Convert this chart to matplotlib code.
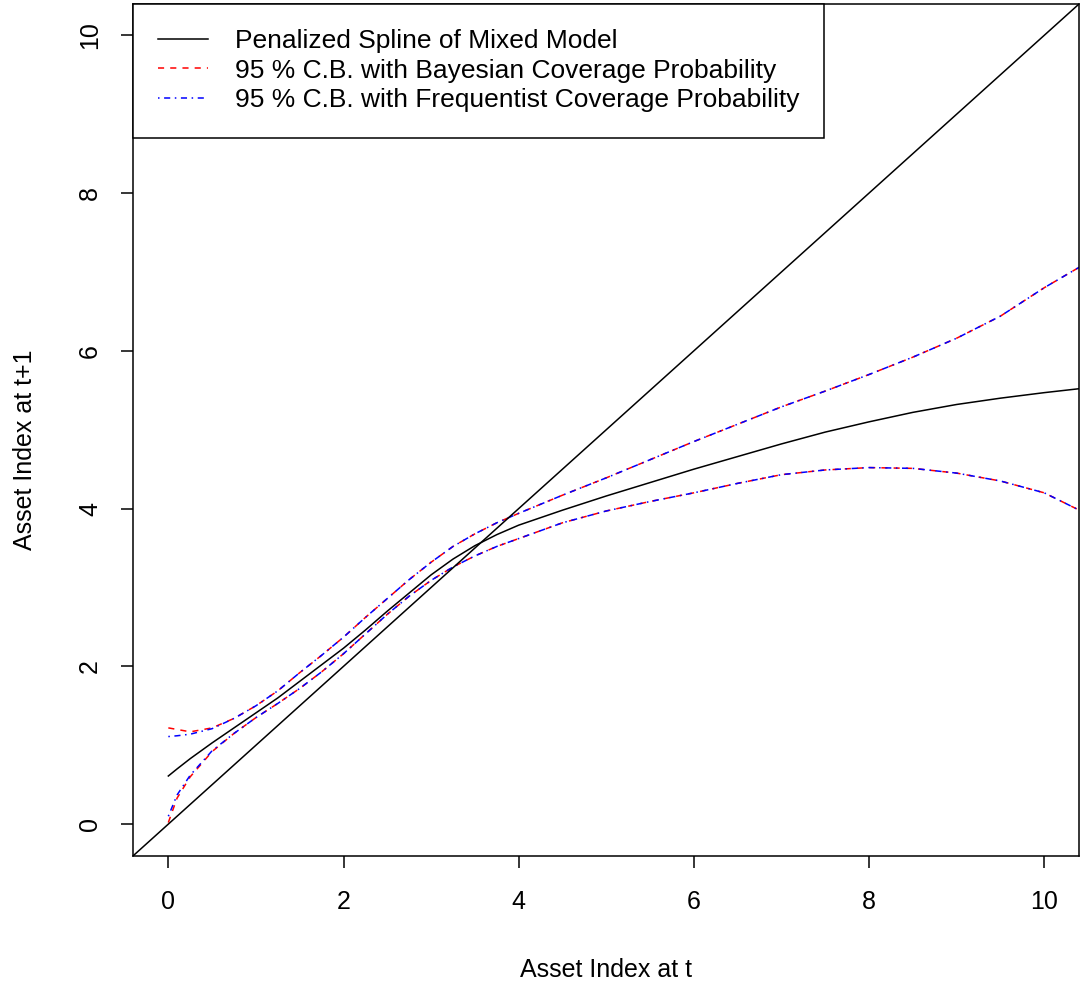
import matplotlib
matplotlib.use('Agg')
import matplotlib.pyplot as plt

plt.rcParams['font.family'] = ['Liberation Sans', 'DejaVu Sans']

# asset index at t (grid the curves were read on)
x_grid = [0, 0.1, 0.25, 0.5, 0.75, 1, 1.25, 1.5, 1.75, 2, 2.25, 2.5, 2.75, 3,
          3.25, 3.5, 3.75, 4, 4.5, 5, 5.5, 6, 6.5, 7, 7.5, 8, 8.5, 9, 9.5, 10, 10.4]

spline_fit = [0.61, 0.70, 0.83, 1.03, 1.22, 1.41, 1.60, 1.81, 2.02, 2.23, 2.46, 2.70,
              2.93, 3.16, 3.36, 3.53, 3.67, 3.79, 3.98, 4.16, 4.33, 4.50, 4.66, 4.82,
              4.97, 5.10, 5.22, 5.32, 5.40, 5.47, 5.52]

bayes_upper = [1.22, 1.20, 1.17, 1.22, 1.34, 1.50, 1.69, 1.92, 2.14, 2.37, 2.62, 2.86,
               3.10, 3.32, 3.52, 3.68, 3.82, 3.94, 4.17, 4.39, 4.62, 4.85, 5.07, 5.29,
               5.49, 5.70, 5.92, 6.16, 6.44, 6.80, 7.06]
bayes_lower = [0.02, 0.33, 0.60, 0.92, 1.15, 1.35, 1.53, 1.72, 1.93, 2.16, 2.41, 2.66,
               2.89, 3.09, 3.26, 3.40, 3.52, 3.62, 3.82, 3.97, 4.09, 4.20, 4.32, 4.43,
               4.49, 4.52, 4.51, 4.45, 4.35, 4.20, 3.98]

freq_upper = [1.11, 1.12, 1.14, 1.21, 1.34, 1.50, 1.69, 1.92, 2.14, 2.37, 2.62, 2.86,
              3.10, 3.32, 3.52, 3.68, 3.82, 3.94, 4.17, 4.39, 4.62, 4.85, 5.07, 5.29,
              5.49, 5.70, 5.92, 6.16, 6.44, 6.80, 7.06]
freq_lower = [0.10, 0.37, 0.62, 0.93, 1.15, 1.35, 1.53, 1.72, 1.93, 2.16, 2.41, 2.66,
              2.89, 3.09, 3.26, 3.40, 3.52, 3.62, 3.82, 3.97, 4.09, 4.20, 4.32, 4.43,
              4.49, 4.52, 4.51, 4.45, 4.35, 4.20, 3.98]

ticks = [0, 2, 4, 6, 8, 10]
labels = ('Penalized Spline of Mixed Model',
          '95 % C.B. with Bayesian Coverage Probability',
          '95 % C.B. with Frequentist Coverage Probability')

fig = plt.figure(figsize=(10.81, 9.93), dpi=100)
ax = fig.add_axes([0.1233, 0.1383, 0.8751, 0.8579])

lw = 1.1
ax.plot(x_grid, spline_fit, color='black', lw=lw, label=labels[0])
ax.plot(x_grid, bayes_upper, color='red', lw=lw, dashes=(4, 4), label=labels[1])
ax.plot(x_grid, bayes_lower, color='red', lw=lw, dashes=(4, 4))
ax.plot(x_grid, freq_upper, color='blue', lw=lw, dashes=(1, 3, 4, 3), label=labels[2])
ax.plot(x_grid, freq_lower, color='blue', lw=lw, dashes=(1, 3, 4, 3))
ax.axline((0, 0), slope=1, color='black', lw=lw)

ax.set_xlim(-0.4, 10.4)
ax.set_ylim(-0.4, 10.4)
ax.set_xticks(ticks)
ax.set_yticks(ticks)
ax.tick_params(direction='out', length=8.5, width=1.1, labelsize=18, color='black')
ax.tick_params(axis='x', pad=16)
ax.tick_params(axis='y', pad=14)
plt.setp(ax.get_yticklabels(), rotation=90, va='center')
for s in ax.spines.values():
    s.set_linewidth(1.1)

ax.set_xlabel('Asset Index at t', fontsize=18, va='center')
ax.xaxis.set_label_coords(0.5, -0.134)
ax.set_ylabel('Asset Index at t+1', fontsize=18, va='center', ha='center')
ax.yaxis.set_label_coords(-0.1145, 0.476)

# legend sits in the top-left corner, like R's legend("topleft")
leg = ax.legend(loc='upper left', bbox_to_anchor=(0, 1), borderaxespad=0,
                fontsize=19, fancybox=False, framealpha=1, edgecolor='black',
                handlelength=1.9, handletextpad=1.0, labelspacing=0.22,
                borderpad=0.95)
leg.get_frame().set_linewidth(1.1)

fig.savefig('out.png', dpi=100)
